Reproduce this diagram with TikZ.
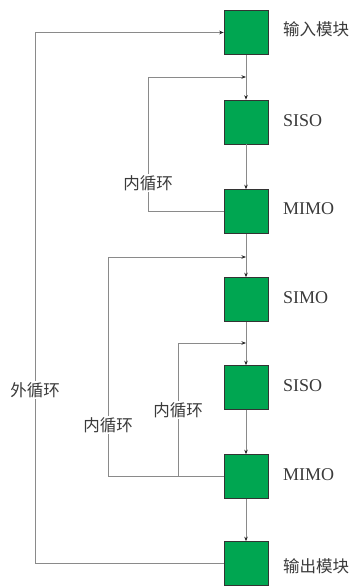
\documentclass[tikz,border=0pt]{standalone}
\usepackage{fontspec}
\setmainfont{Liberation Serif}
\newfontfamily\cjk{Noto Sans CJK SC}
\usetikzlibrary{arrows.meta}
\definecolor{boxgreen}{HTML}{00A651}
\definecolor{linegray}{HTML}{8A8A8A}
\definecolor{txtgray}{HTML}{3A3A3A}
\definecolor{tipcol}{HTML}{262626}
\tikzset{
  blk/.style={draw=black!80, line width=0.6pt, fill=boxgreen, minimum width=44pt, minimum height=44pt, inner sep=0pt},
  lbl/.style={anchor=west, text=txtgray, font=\fontsize{18}{20}\selectfont, inner sep=0pt},
  clbl/.style={anchor=west, text=txtgray, font=\cjk\fontsize{16.5}{18}\selectfont, inner sep=0pt},
  looplbl/.style={fill=white, text=txtgray, font=\cjk\fontsize{16.5}{18}\selectfont, inner sep=1.5pt},
  conn/.style={draw=linegray, line width=0.8pt},
  arr/.style={conn, -{Stealth[length=4.5pt,width=3.5pt,color=tipcol,fill=tipcol]}}
}
\begin{document}
\begin{tikzpicture}[x=1pt,y=-1pt]
\useasboundingbox (0,0) rectangle (356,586);
\node[blk] (b1) at (246,32.5) {};
\node[blk] (b2) at (246,122) {};
\node[blk] (b3) at (246,211.5) {};
\node[blk] (b4) at (246,299.5) {};
\node[blk] (b5) at (246,387.5) {};
\node[blk] (b6) at (246,476.5) {};
\node[blk] (b7) at (246,563.5) {};
\node[clbl] (t1) at (283,29) {输入模块};
\node[lbl] (t2) at (283,121) {SISO};
\node[lbl] (t3) at (283,209) {MIMO};
\node[lbl] (t4) at (283,298) {SIMO};
\node[lbl] (t5) at (283,386) {SISO};
\node[lbl] (t6) at (283,475) {MIMO};
\node[clbl] (t7) at (283,566) {输出模块};
% main chain
\draw[arr] (b1.south) -- (b2.north);
\draw[arr] (b2.south) -- (b3.north);
\draw[arr] (b3.south) -- (b4.north);
\draw[arr] (b4.south) -- (b5.north);
\draw[arr] (b5.south) -- (b6.north);
\draw[arr] (b6.south) -- (b7.north);
% junctions
\coordinate (j1) at (246,77);
\coordinate (j2) at (246,257);
\coordinate (j3) at (246,343);
\coordinate (ox) at (35,0);
\coordinate (i1) at (148,0);
\coordinate (i2) at (108,0);
\coordinate (i3) at (178,0);
% outer loop
\draw[arr] (b7.west) -- (b7.west -| ox) -- (b1.west -| ox) -- (b1.west);
% inner loop 1
\draw[arr] (b3.west) -- (b3.west -| i1) -- (j1 -| i1) -- (j1);
% inner loop 2
\draw[arr] (b6.west) -- (b6.west -| i2) -- (j2 -| i2) -- (j2);
% inner loop 3
\draw[arr] (b6.west -| i3) -- (j3 -| i3) -- (j3);
% loop labels
\node[looplbl] (l0) at (35,390) {外循环};
\node[looplbl] (l1) at (148,183) {内循环};
\node[looplbl] (l2) at (108,425) {内循环};
\node[looplbl] (l3) at (178,410) {内循环};
\end{tikzpicture}
\end{document}
